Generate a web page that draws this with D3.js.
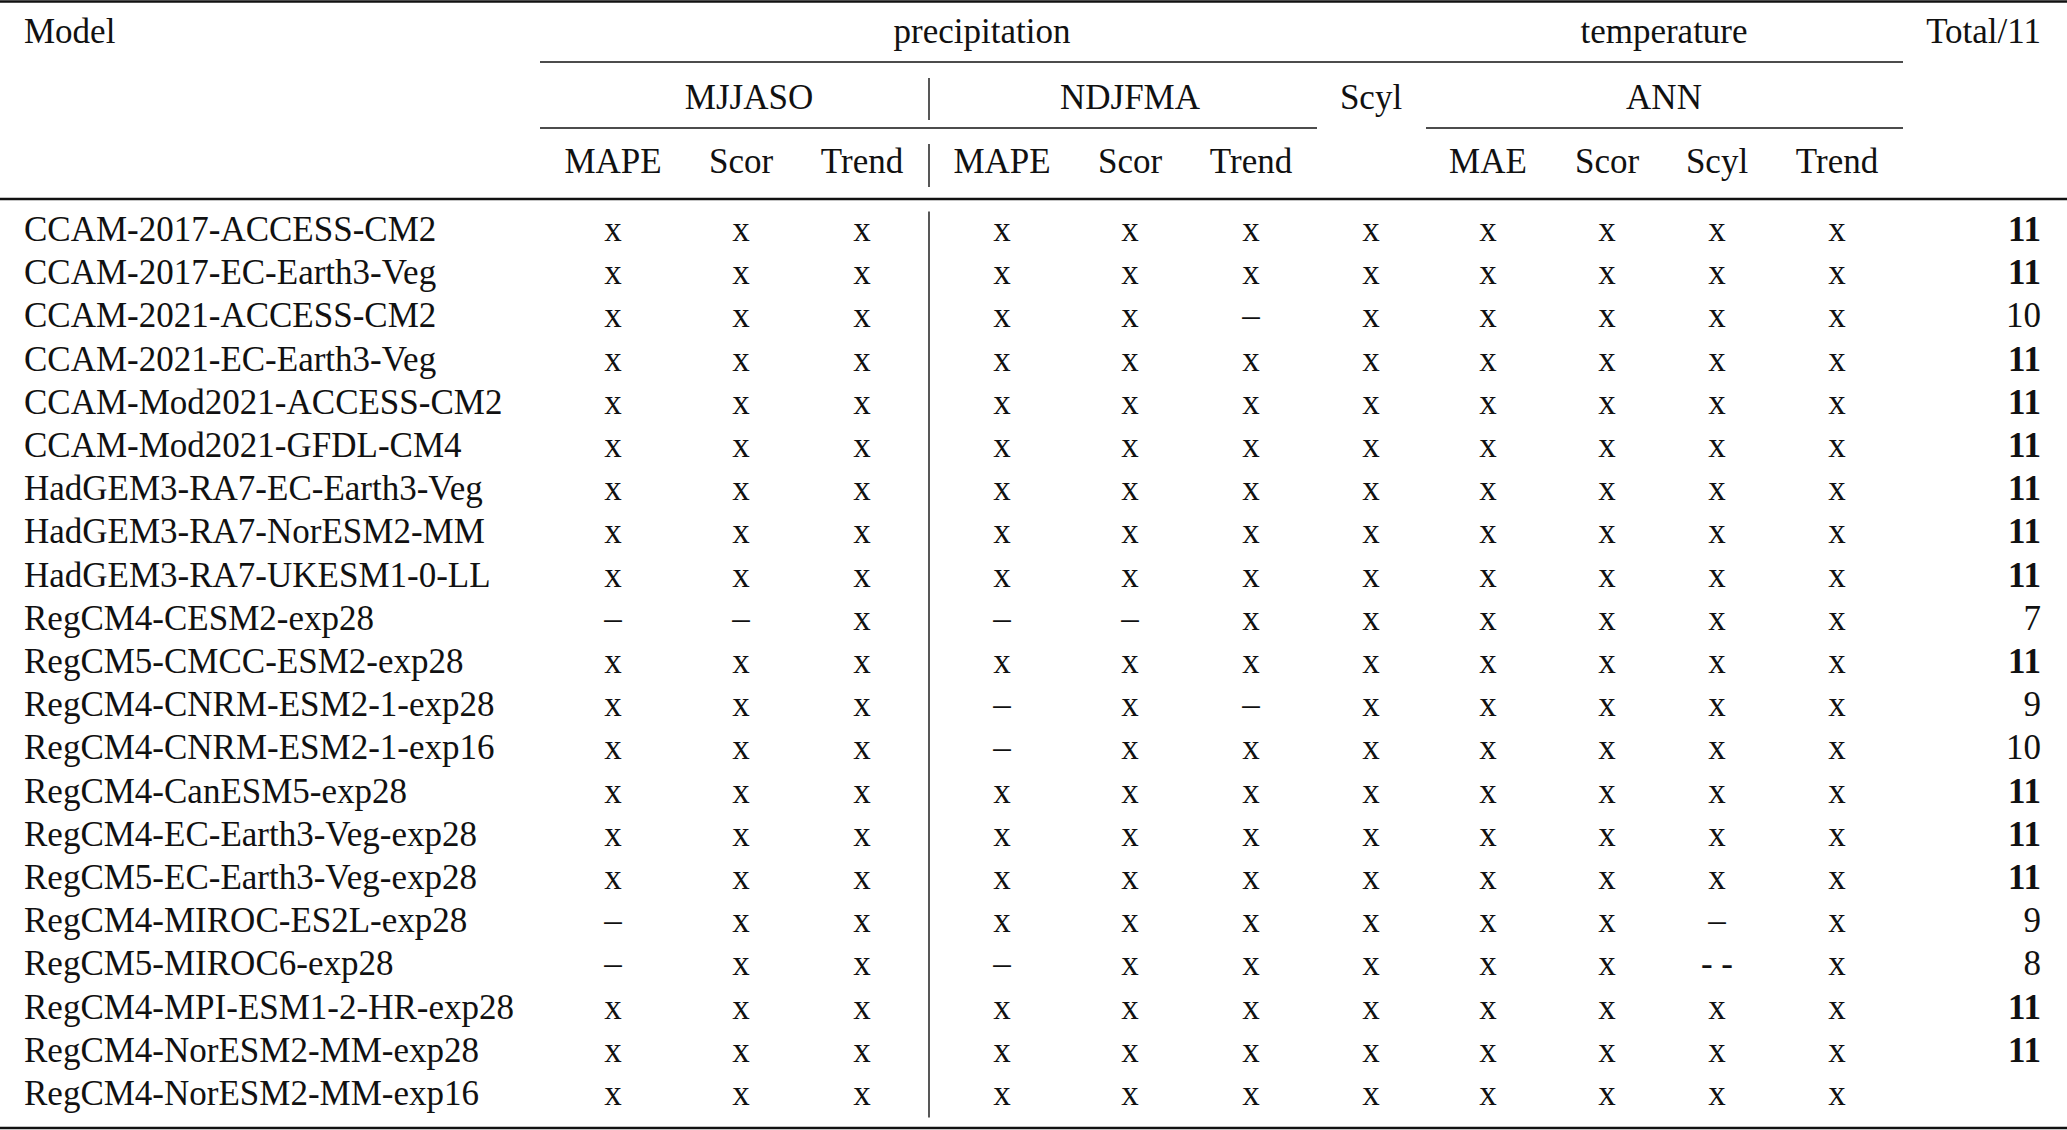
<!DOCTYPE html>
<html>
<head>
<meta charset="utf-8">
<script src="https://cdn.jsdelivr.net/npm/d3@7"></script>
<style>
  body { margin: 0; background: #fff; }
  text { font-family: "Liberation Serif", "Times New Roman", serif; fill: #111; }
</style>
</head>
<body>
<script>
// table content
var models = [
  "CCAM-2017-ACCESS-CM2", "CCAM-2017-EC-Earth3-Veg", "CCAM-2021-ACCESS-CM2",
  "CCAM-2021-EC-Earth3-Veg", "CCAM-Mod2021-ACCESS-CM2", "CCAM-Mod2021-GFDL-CM4",
  "HadGEM3-RA7-EC-Earth3-Veg", "HadGEM3-RA7-NorESM2-MM", "HadGEM3-RA7-UKESM1-0-LL",
  "RegCM4-CESM2-exp28", "RegCM5-CMCC-ESM2-exp28", "RegCM4-CNRM-ESM2-1-exp28",
  "RegCM4-CNRM-ESM2-1-exp16", "RegCM4-CanESM5-exp28", "RegCM4-EC-Earth3-Veg-exp28",
  "RegCM5-EC-Earth3-Veg-exp28", "RegCM4-MIROC-ES2L-exp28", "RegCM5-MIROC6-exp28",
  "RegCM4-MPI-ESM1-2-HR-exp28", "RegCM4-NorESM2-MM-exp28", "RegCM4-NorESM2-MM-exp16"
];
var colKeys = ["pMJ_MAPE", "pMJ_Scor", "pMJ_Trend", "pND_MAPE", "pND_Scor", "pND_Trend",
               "p_Scyl", "t_MAE", "t_Scor", "t_Scyl", "t_Trend"];
var subLabels = ["MAPE", "Scor", "Trend", "MAPE", "Scor", "Trend", "", "MAE", "Scor", "Scyl", "Trend"];
var marks = [
  "x x x x x x x x x x x",
  "x x x x x x x x x x x",
  "x x x x x – x x x x x",
  "x x x x x x x x x x x",
  "x x x x x x x x x x x",
  "x x x x x x x x x x x",
  "x x x x x x x x x x x",
  "x x x x x x x x x x x",
  "x x x x x x x x x x x",
  "– – x – – x x x x x x",
  "x x x x x x x x x x x",
  "x x x – x – x x x x x",
  "x x x – x x x x x x x",
  "x x x x x x x x x x x",
  "x x x x x x x x x x x",
  "x x x x x x x x x x x",
  "– x x x x x x x x – x",
  "– x x – x x x x x -_- x",
  "x x x x x x x x x x x",
  "x x x x x x x x x x x",
  "x x x x x x x x x x x"
].map(function (r) { return r.split(" ").map(function (c) { return c === "-_-" ? "- -" : c; }); });
var totals = [11, 11, 10, 11, 11, 11, 11, 11, 11, 7, 11, 9, 10, 11, 11, 11, 9, 8, 11, 11, null];

var width = 2067, height = 1130;
var fs = 35;

var svg = d3.select("body").append("svg")
  .attr("width", width)
  .attr("height", height);

// column centres
var x = d3.scaleOrdinal()
  .domain(colKeys)
  .range([613, 741, 862, 1002, 1130, 1251, 1371, 1488, 1607, 1717, 1837]);

var y = d3.scaleBand()
  .domain(models)
  .range([209.5, 1116.5]);

var leftX = 24, rightX = 2041;

function hline(x1, x2, yy, w) {
  svg.append("line")
    .attr("x1", x1).attr("x2", x2)
    .attr("y1", yy).attr("y2", yy)
    .attr("stroke", "#111")
    .attr("stroke-width", w);
}
function vline(xx, y1, y2) {
  svg.append("line")
    .attr("x1", xx).attr("x2", xx)
    .attr("y1", y1).attr("y2", y2)
    .attr("stroke", "#111")
    .attr("stroke-width", 1.4);
}
function label(t, xx, yy, anchor, weight) {
  svg.append("text")
    .attr("x", xx).attr("y", yy)
    .attr("text-anchor", anchor || "middle")
    .attr("font-size", fs)
    .attr("font-weight", weight || "normal")
    .text(t);
}

// rules
hline(0, width, 1.5, 2.6);
hline(540, 1903, 62, 1.6);
hline(540, 1317, 128, 1.6);
hline(1426, 1903, 128, 1.6);
hline(0, width, 199, 2.6);
hline(0, width, 1128, 2.6);

// separator between MJJASO and NDJFMA
var sepX = (x("pMJ_Trend") + x("pND_MAPE")) / 2 - 3;
vline(sepX, 78, 120);
vline(sepX, 144, 187);
vline(sepX, y.range()[0] + 2, y.range()[1] + 1);

// header
label("Model", leftX, 43, "start");
label("precipitation", 982, 43);
label("temperature", 1664, 43);
label("Total/11", rightX, 43, "end");
label("MJJASO", 749, 109);
label("NDJFMA", x("pND_Scor"), 109);
label("Scyl", x("p_Scyl"), 109);
label("ANN", 1664, 109);

svg.selectAll("text.sub")
  .data(colKeys.map(function (k, i) { return {k: k, t: subLabels[i]}; }))
  .join("text")
  .attr("class", "sub")
  .attr("x", function (d) { return x(d.k); })
  .attr("y", 173)
  .attr("text-anchor", "middle")
  .attr("font-size", fs)
  .text(function (d) { return d.t; });

// body rows
var rows = svg.selectAll("g.row")
  .data(models)
  .join("g")
  .attr("class", "row")
  .attr("transform", function (d) { return "translate(0," + (y(d) + y.bandwidth() / 2 + 10) + ")"; });

rows.append("text")
  .attr("x", leftX)
  .attr("font-size", fs)
  .text(function (d) { return d; });

rows.selectAll("text.cell")
  .data(function (d, i) { return marks[i].map(function (v, j) { return {k: colKeys[j], v: v}; }); })
  .join("text")
  .attr("class", "cell")
  .attr("x", function (d) { return x(d.k); })
  .attr("text-anchor", "middle")
  .attr("font-size", fs)
  .text(function (d) { return d.v; });

rows.append("text")
  .attr("x", rightX)
  .attr("text-anchor", "end")
  .attr("font-size", fs)
  .attr("font-weight", function (d, i) { return totals[i] === 11 ? "bold" : "normal"; })
  .text(function (d, i) { return totals[i] == null ? "" : totals[i]; });
</script>
</body>
</html>
